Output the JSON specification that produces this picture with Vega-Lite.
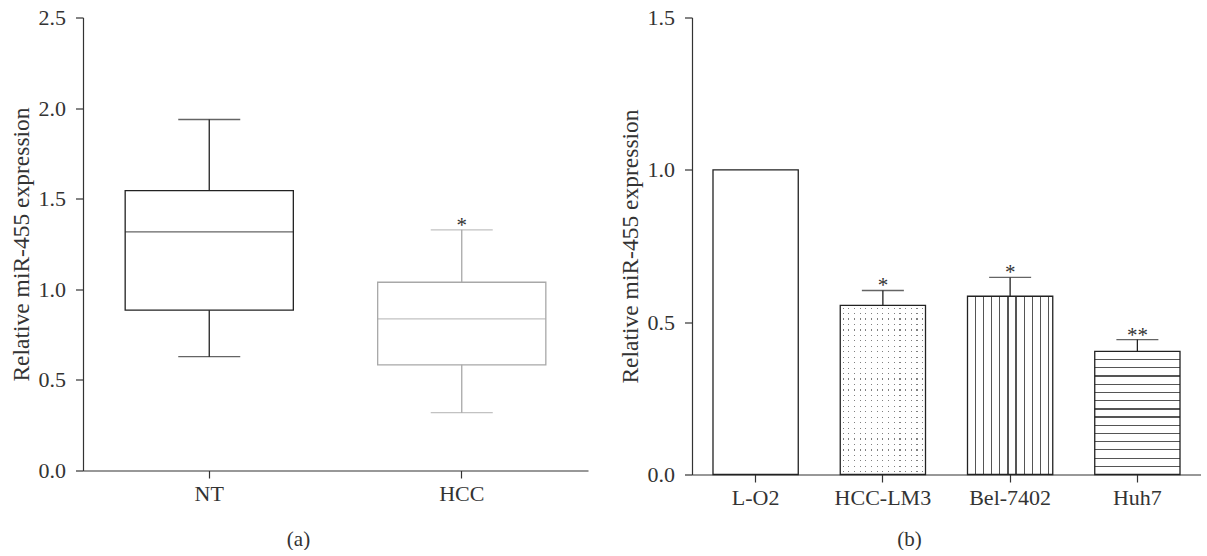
{
  "$schema": "https://vega.github.io/schema/vega-lite/v6.json",
  "background": "white",
  "padding": {"left": 9, "top": 6.5, "right": 0, "bottom": 0},
  "spacing": 30,
  "config": {
    "view": {"stroke": null},
    "font": "Liberation Serif",
    "axis": {
      "domainColor": "#333333", "tickColor": "#333333", "labelColor": "#333333", "titleColor": "#333333",
      "labelFont": "Liberation Serif", "titleFont": "Liberation Serif",
      "labelFontSize": 22, "titleFontSize": 23.5, "titleFontWeight": "normal",
      "tickSize": 7.5, "domainWidth": 1.2, "tickWidth": 1.2, "grid": false
    }
  },
  "datasets": {
    "box": [
      {"group": "NT", "min": 0.628, "q1": 0.885, "median": 1.317, "q3": 1.545, "max": 1.937, "star": ""},
      {"group": "HCC", "min": 0.319, "q1": 0.583, "median": 0.837, "q3": 1.039, "max": 1.328, "star": "*"}
    ],
    "cells": [
      {"line": "L-O2", "value": 1.0, "upper": null, "star": ""},
      {"line": "HCC-LM3", "value": 0.555, "upper": 0.604, "star": "*"},
      {"line": "Bel-7402", "value": 0.585, "upper": 0.647, "star": "*"},
      {"line": "Huh7", "value": 0.404, "upper": 0.443, "star": "**"}
    ]
  },
  "hconcat": [
    {
      "width": 505,
      "height": 453,
      "data": {"name": "box"},
      "encoding": {
        "x": {
          "field": "group", "type": "nominal", "sort": ["NT", "HCC"],
          "scale": {"paddingInner": 0.334, "paddingOuter": 0.167},
          "axis": {"labelAngle": 0, "labelPadding": 5, "title": "(a)", "titleX": 215, "titleY": 75, "titleBaseline": "alphabetic", "titleFontSize": 21}
        }
      },
      "layer": [
        {
          "mark": {"type": "rule", "strokeWidth": 1.3},
          "encoding": {
            "y": {"field": "min", "type": "quantitative", "title": "Relative miR-455 expression",
              "scale": {"domain": [0, 2.5], "nice": false},
              "axis": {"values": [0, 0.5, 1, 1.5, 2, 2.5], "format": ".1f", "labelPadding": 10, "titlePadding": 5}},
            "y2": {"field": "max"},
            "color": {"field": "group", "type": "nominal", "scale": {"domain": ["NT", "HCC"], "range": ["#222222", "#a8a8a8"]}, "legend": null}
          }
        },
        {
          "mark": {"type": "bar", "fill": "white", "strokeWidth": 1.3},
          "encoding": {
            "y": {"field": "q1", "type": "quantitative", "title": "Relative miR-455 expression"},
            "y2": {"field": "q3"},
            "stroke": {"field": "group", "type": "nominal", "scale": {"domain": ["NT", "HCC"], "range": ["#222222", "#a8a8a8"]}, "legend": null}
          }
        },
        {
          "mark": {"type": "tick", "size": 168, "thickness": 1.3},
          "encoding": {
            "y": {"field": "median", "type": "quantitative", "title": "Relative miR-455 expression"},
            "color": {"field": "group", "type": "nominal", "legend": null}
          }
        },
        {
          "mark": {"type": "tick", "size": 62, "thickness": 1.3},
          "encoding": {
            "y": {"field": "min", "type": "quantitative", "title": "Relative miR-455 expression"},
            "color": {"field": "group", "type": "nominal", "legend": null}
          }
        },
        {
          "mark": {"type": "tick", "size": 62, "thickness": 1.3},
          "encoding": {
            "y": {"field": "max", "type": "quantitative", "title": "Relative miR-455 expression"},
            "color": {"field": "group", "type": "nominal", "legend": null}
          }
        },
        {
          "transform": [{"filter": "datum.star != ''"}],
          "mark": {"type": "text", "fontSize": 21, "font": "Liberation Serif", "color": "#333333", "baseline": "alphabetic", "dy": 2},
          "encoding": {
            "y": {"field": "max", "type": "quantitative", "title": "Relative miR-455 expression"},
            "text": {"field": "star"}
          }
        }
      ]
    },
    {
      "width": 509,
      "height": 457,
      "data": {"name": "cells"},
      "encoding": {
        "x": {
          "field": "line", "type": "nominal", "sort": ["L-O2", "HCC-LM3", "Bel-7402", "Huh7"],
          "scale": {"paddingInner": 0.33, "paddingOuter": 0.165},
          "axis": {"labelAngle": 0, "labelPadding": 5, "title": "(b)", "titleX": 217, "titleY": 71, "titleBaseline": "alphabetic", "titleFontSize": 21}
        }
      },
      "layer": [
        {
          "transform": [{"filter": "datum.line == 'HCC-LM3'"}],
          "mark": {"type": "bar", "strokeWidth": 0, "fill": {"gradient": "linear", "x1": 0, "y1": 0, "x2": 1, "y2": 0, "stops": [
            {"offset": 0, "color": "#ffffff"},
            {"offset": 0.027, "color": "#ffffff"}, {"offset": 0.027, "color": "#808080"}, {"offset": 0.040, "color": "#808080"}, {"offset": 0.040, "color": "#ffffff"},
            {"offset": 0.093, "color": "#ffffff"}, {"offset": 0.093, "color": "#808080"}, {"offset": 0.107, "color": "#808080"}, {"offset": 0.107, "color": "#ffffff"},
            {"offset": 0.160, "color": "#ffffff"}, {"offset": 0.160, "color": "#808080"}, {"offset": 0.173, "color": "#808080"}, {"offset": 0.173, "color": "#ffffff"},
            {"offset": 0.227, "color": "#ffffff"}, {"offset": 0.227, "color": "#808080"}, {"offset": 0.240, "color": "#808080"}, {"offset": 0.240, "color": "#ffffff"},
            {"offset": 0.293, "color": "#ffffff"}, {"offset": 0.293, "color": "#808080"}, {"offset": 0.307, "color": "#808080"}, {"offset": 0.307, "color": "#ffffff"},
            {"offset": 0.360, "color": "#ffffff"}, {"offset": 0.360, "color": "#808080"}, {"offset": 0.373, "color": "#808080"}, {"offset": 0.373, "color": "#ffffff"},
            {"offset": 0.427, "color": "#ffffff"}, {"offset": 0.427, "color": "#808080"}, {"offset": 0.440, "color": "#808080"}, {"offset": 0.440, "color": "#ffffff"},
            {"offset": 0.493, "color": "#ffffff"}, {"offset": 0.493, "color": "#808080"}, {"offset": 0.507, "color": "#808080"}, {"offset": 0.507, "color": "#ffffff"},
            {"offset": 0.560, "color": "#ffffff"}, {"offset": 0.560, "color": "#808080"}, {"offset": 0.573, "color": "#808080"}, {"offset": 0.573, "color": "#ffffff"},
            {"offset": 0.627, "color": "#ffffff"}, {"offset": 0.627, "color": "#808080"}, {"offset": 0.640, "color": "#808080"}, {"offset": 0.640, "color": "#ffffff"},
            {"offset": 0.693, "color": "#ffffff"}, {"offset": 0.693, "color": "#808080"}, {"offset": 0.707, "color": "#808080"}, {"offset": 0.707, "color": "#ffffff"},
            {"offset": 0.760, "color": "#ffffff"}, {"offset": 0.760, "color": "#808080"}, {"offset": 0.773, "color": "#808080"}, {"offset": 0.773, "color": "#ffffff"},
            {"offset": 0.827, "color": "#ffffff"}, {"offset": 0.827, "color": "#808080"}, {"offset": 0.840, "color": "#808080"}, {"offset": 0.840, "color": "#ffffff"},
            {"offset": 0.893, "color": "#ffffff"}, {"offset": 0.893, "color": "#808080"}, {"offset": 0.907, "color": "#808080"}, {"offset": 0.907, "color": "#ffffff"},
            {"offset": 0.960, "color": "#ffffff"}, {"offset": 0.960, "color": "#808080"}, {"offset": 0.973, "color": "#808080"}, {"offset": 0.973, "color": "#ffffff"},
            {"offset": 1, "color": "#ffffff"}
          ]}},
          "encoding": {
            "y": {"field": "value", "type": "quantitative", "title": "Relative miR-455 expression",
              "scale": {"domain": [0, 1.5], "nice": false},
              "axis": {"values": [0, 0.5, 1, 1.5], "format": ".1f", "labelPadding": 10, "titlePadding": 5}}
          }
        },
        {
          "transform": [{"filter": "datum.line == 'HCC-LM3'"}],
          "mark": {"type": "bar", "strokeWidth": 0, "fill": {"gradient": "linear", "x1": 0, "y1": 0, "x2": 0, "y2": 1, "stops": [
            {"offset": 0, "color": "#ffffff"},
            {"offset": 0.0126, "color": "#ffffff"}, {"offset": 0.0126, "color": "rgba(255,255,255,0)"}, {"offset": 0.0196, "color": "rgba(255,255,255,0)"}, {"offset": 0.0196, "color": "#ffffff"},
            {"offset": 0.0449, "color": "#ffffff"}, {"offset": 0.0449, "color": "rgba(255,255,255,0)"}, {"offset": 0.0519, "color": "rgba(255,255,255,0)"}, {"offset": 0.0519, "color": "#ffffff"},
            {"offset": 0.0771, "color": "#ffffff"}, {"offset": 0.0771, "color": "rgba(255,255,255,0)"}, {"offset": 0.0841, "color": "rgba(255,255,255,0)"}, {"offset": 0.0841, "color": "#ffffff"},
            {"offset": 0.1094, "color": "#ffffff"}, {"offset": 0.1094, "color": "rgba(255,255,255,0)"}, {"offset": 0.1164, "color": "rgba(255,255,255,0)"}, {"offset": 0.1164, "color": "#ffffff"},
            {"offset": 0.1417, "color": "#ffffff"}, {"offset": 0.1417, "color": "rgba(255,255,255,0)"}, {"offset": 0.1487, "color": "rgba(255,255,255,0)"}, {"offset": 0.1487, "color": "#ffffff"},
            {"offset": 0.1739, "color": "#ffffff"}, {"offset": 0.1739, "color": "rgba(255,255,255,0)"}, {"offset": 0.1809, "color": "rgba(255,255,255,0)"}, {"offset": 0.1809, "color": "#ffffff"},
            {"offset": 0.2062, "color": "#ffffff"}, {"offset": 0.2062, "color": "rgba(255,255,255,0)"}, {"offset": 0.2132, "color": "rgba(255,255,255,0)"}, {"offset": 0.2132, "color": "#ffffff"},
            {"offset": 0.2384, "color": "#ffffff"}, {"offset": 0.2384, "color": "rgba(255,255,255,0)"}, {"offset": 0.2454, "color": "rgba(255,255,255,0)"}, {"offset": 0.2454, "color": "#ffffff"},
            {"offset": 0.2707, "color": "#ffffff"}, {"offset": 0.2707, "color": "rgba(255,255,255,0)"}, {"offset": 0.2777, "color": "rgba(255,255,255,0)"}, {"offset": 0.2777, "color": "#ffffff"},
            {"offset": 0.3030, "color": "#ffffff"}, {"offset": 0.3030, "color": "rgba(255,255,255,0)"}, {"offset": 0.3100, "color": "rgba(255,255,255,0)"}, {"offset": 0.3100, "color": "#ffffff"},
            {"offset": 0.3352, "color": "#ffffff"}, {"offset": 0.3352, "color": "rgba(255,255,255,0)"}, {"offset": 0.3422, "color": "rgba(255,255,255,0)"}, {"offset": 0.3422, "color": "#ffffff"},
            {"offset": 0.3675, "color": "#ffffff"}, {"offset": 0.3675, "color": "rgba(255,255,255,0)"}, {"offset": 0.3745, "color": "rgba(255,255,255,0)"}, {"offset": 0.3745, "color": "#ffffff"},
            {"offset": 0.3997, "color": "#ffffff"}, {"offset": 0.3997, "color": "rgba(255,255,255,0)"}, {"offset": 0.4067, "color": "rgba(255,255,255,0)"}, {"offset": 0.4067, "color": "#ffffff"},
            {"offset": 0.4320, "color": "#ffffff"}, {"offset": 0.4320, "color": "rgba(255,255,255,0)"}, {"offset": 0.4390, "color": "rgba(255,255,255,0)"}, {"offset": 0.4390, "color": "#ffffff"},
            {"offset": 0.4642, "color": "#ffffff"}, {"offset": 0.4642, "color": "rgba(255,255,255,0)"}, {"offset": 0.4712, "color": "rgba(255,255,255,0)"}, {"offset": 0.4712, "color": "#ffffff"},
            {"offset": 0.4965, "color": "#ffffff"}, {"offset": 0.4965, "color": "rgba(255,255,255,0)"}, {"offset": 0.5035, "color": "rgba(255,255,255,0)"}, {"offset": 0.5035, "color": "#ffffff"},
            {"offset": 0.5288, "color": "#ffffff"}, {"offset": 0.5288, "color": "rgba(255,255,255,0)"}, {"offset": 0.5358, "color": "rgba(255,255,255,0)"}, {"offset": 0.5358, "color": "#ffffff"},
            {"offset": 0.5610, "color": "#ffffff"}, {"offset": 0.5610, "color": "rgba(255,255,255,0)"}, {"offset": 0.5680, "color": "rgba(255,255,255,0)"}, {"offset": 0.5680, "color": "#ffffff"},
            {"offset": 0.5933, "color": "#ffffff"}, {"offset": 0.5933, "color": "rgba(255,255,255,0)"}, {"offset": 0.6003, "color": "rgba(255,255,255,0)"}, {"offset": 0.6003, "color": "#ffffff"},
            {"offset": 0.6255, "color": "#ffffff"}, {"offset": 0.6255, "color": "rgba(255,255,255,0)"}, {"offset": 0.6325, "color": "rgba(255,255,255,0)"}, {"offset": 0.6325, "color": "#ffffff"},
            {"offset": 0.6578, "color": "#ffffff"}, {"offset": 0.6578, "color": "rgba(255,255,255,0)"}, {"offset": 0.6648, "color": "rgba(255,255,255,0)"}, {"offset": 0.6648, "color": "#ffffff"},
            {"offset": 0.6900, "color": "#ffffff"}, {"offset": 0.6900, "color": "rgba(255,255,255,0)"}, {"offset": 0.6970, "color": "rgba(255,255,255,0)"}, {"offset": 0.6970, "color": "#ffffff"},
            {"offset": 0.7223, "color": "#ffffff"}, {"offset": 0.7223, "color": "rgba(255,255,255,0)"}, {"offset": 0.7293, "color": "rgba(255,255,255,0)"}, {"offset": 0.7293, "color": "#ffffff"},
            {"offset": 0.7546, "color": "#ffffff"}, {"offset": 0.7546, "color": "rgba(255,255,255,0)"}, {"offset": 0.7616, "color": "rgba(255,255,255,0)"}, {"offset": 0.7616, "color": "#ffffff"},
            {"offset": 0.7868, "color": "#ffffff"}, {"offset": 0.7868, "color": "rgba(255,255,255,0)"}, {"offset": 0.7938, "color": "rgba(255,255,255,0)"}, {"offset": 0.7938, "color": "#ffffff"},
            {"offset": 0.8191, "color": "#ffffff"}, {"offset": 0.8191, "color": "rgba(255,255,255,0)"}, {"offset": 0.8261, "color": "rgba(255,255,255,0)"}, {"offset": 0.8261, "color": "#ffffff"},
            {"offset": 0.8513, "color": "#ffffff"}, {"offset": 0.8513, "color": "rgba(255,255,255,0)"}, {"offset": 0.8583, "color": "rgba(255,255,255,0)"}, {"offset": 0.8583, "color": "#ffffff"},
            {"offset": 0.8836, "color": "#ffffff"}, {"offset": 0.8836, "color": "rgba(255,255,255,0)"}, {"offset": 0.8906, "color": "rgba(255,255,255,0)"}, {"offset": 0.8906, "color": "#ffffff"},
            {"offset": 0.9159, "color": "#ffffff"}, {"offset": 0.9159, "color": "rgba(255,255,255,0)"}, {"offset": 0.9229, "color": "rgba(255,255,255,0)"}, {"offset": 0.9229, "color": "#ffffff"},
            {"offset": 0.9481, "color": "#ffffff"}, {"offset": 0.9481, "color": "rgba(255,255,255,0)"}, {"offset": 0.9551, "color": "rgba(255,255,255,0)"}, {"offset": 0.9551, "color": "#ffffff"},
            {"offset": 0.9804, "color": "#ffffff"}, {"offset": 0.9804, "color": "rgba(255,255,255,0)"}, {"offset": 0.9874, "color": "rgba(255,255,255,0)"}, {"offset": 0.9874, "color": "#ffffff"},
            {"offset": 1, "color": "#ffffff"}
          ]}},
          "encoding": {
            "y": {"field": "value", "type": "quantitative", "title": "Relative miR-455 expression"}
          }
        },
        {
          "transform": [{"filter": "datum.line == 'Bel-7402'"}],
          "mark": {"type": "bar", "strokeWidth": 0, "fill": {"gradient": "linear", "x1": 0, "y1": 0, "x2": 1, "y2": 0, "stops": [
            {"offset": 0, "color": "#ffffff"},
            {"offset": 0.088, "color": "#ffffff"}, {"offset": 0.088, "color": "#555555"}, {"offset": 0.102, "color": "#555555"}, {"offset": 0.102, "color": "#ffffff"},
            {"offset": 0.183, "color": "#ffffff"}, {"offset": 0.183, "color": "#555555"}, {"offset": 0.197, "color": "#555555"}, {"offset": 0.197, "color": "#ffffff"},
            {"offset": 0.278, "color": "#ffffff"}, {"offset": 0.278, "color": "#555555"}, {"offset": 0.292, "color": "#555555"}, {"offset": 0.292, "color": "#ffffff"},
            {"offset": 0.373, "color": "#ffffff"}, {"offset": 0.373, "color": "#555555"}, {"offset": 0.387, "color": "#555555"}, {"offset": 0.387, "color": "#ffffff"},
            {"offset": 0.468, "color": "#ffffff"}, {"offset": 0.468, "color": "#555555"}, {"offset": 0.482, "color": "#555555"}, {"offset": 0.482, "color": "#ffffff"},
            {"offset": 0.563, "color": "#ffffff"}, {"offset": 0.563, "color": "#555555"}, {"offset": 0.577, "color": "#555555"}, {"offset": 0.577, "color": "#ffffff"},
            {"offset": 0.658, "color": "#ffffff"}, {"offset": 0.658, "color": "#555555"}, {"offset": 0.672, "color": "#555555"}, {"offset": 0.672, "color": "#ffffff"},
            {"offset": 0.753, "color": "#ffffff"}, {"offset": 0.753, "color": "#555555"}, {"offset": 0.767, "color": "#555555"}, {"offset": 0.767, "color": "#ffffff"},
            {"offset": 0.848, "color": "#ffffff"}, {"offset": 0.848, "color": "#555555"}, {"offset": 0.862, "color": "#555555"}, {"offset": 0.862, "color": "#ffffff"},
            {"offset": 0.943, "color": "#ffffff"}, {"offset": 0.943, "color": "#555555"}, {"offset": 0.957, "color": "#555555"}, {"offset": 0.957, "color": "#ffffff"},
            {"offset": 1, "color": "#ffffff"}
          ]}},
          "encoding": {
            "y": {"field": "value", "type": "quantitative", "title": "Relative miR-455 expression"}
          }
        },
        {
          "transform": [{"filter": "datum.line == 'Huh7'"}],
          "mark": {"type": "bar", "strokeWidth": 0, "fill": {"gradient": "linear", "x1": 0, "y1": 0, "x2": 0, "y2": 1, "stops": [
            {"offset": 0, "color": "#ffffff"},
            {"offset": 0.062, "color": "#ffffff"}, {"offset": 0.062, "color": "#555555"}, {"offset": 0.072, "color": "#555555"}, {"offset": 0.072, "color": "#ffffff"},
            {"offset": 0.128, "color": "#ffffff"}, {"offset": 0.128, "color": "#555555"}, {"offset": 0.138, "color": "#555555"}, {"offset": 0.138, "color": "#ffffff"},
            {"offset": 0.195, "color": "#ffffff"}, {"offset": 0.195, "color": "#555555"}, {"offset": 0.205, "color": "#555555"}, {"offset": 0.205, "color": "#ffffff"},
            {"offset": 0.262, "color": "#ffffff"}, {"offset": 0.262, "color": "#555555"}, {"offset": 0.272, "color": "#555555"}, {"offset": 0.272, "color": "#ffffff"},
            {"offset": 0.328, "color": "#ffffff"}, {"offset": 0.328, "color": "#555555"}, {"offset": 0.338, "color": "#555555"}, {"offset": 0.338, "color": "#ffffff"},
            {"offset": 0.395, "color": "#ffffff"}, {"offset": 0.395, "color": "#555555"}, {"offset": 0.405, "color": "#555555"}, {"offset": 0.405, "color": "#ffffff"},
            {"offset": 0.462, "color": "#ffffff"}, {"offset": 0.462, "color": "#555555"}, {"offset": 0.472, "color": "#555555"}, {"offset": 0.472, "color": "#ffffff"},
            {"offset": 0.528, "color": "#ffffff"}, {"offset": 0.528, "color": "#555555"}, {"offset": 0.538, "color": "#555555"}, {"offset": 0.538, "color": "#ffffff"},
            {"offset": 0.595, "color": "#ffffff"}, {"offset": 0.595, "color": "#555555"}, {"offset": 0.605, "color": "#555555"}, {"offset": 0.605, "color": "#ffffff"},
            {"offset": 0.662, "color": "#ffffff"}, {"offset": 0.662, "color": "#555555"}, {"offset": 0.672, "color": "#555555"}, {"offset": 0.672, "color": "#ffffff"},
            {"offset": 0.728, "color": "#ffffff"}, {"offset": 0.728, "color": "#555555"}, {"offset": 0.738, "color": "#555555"}, {"offset": 0.738, "color": "#ffffff"},
            {"offset": 0.795, "color": "#ffffff"}, {"offset": 0.795, "color": "#555555"}, {"offset": 0.805, "color": "#555555"}, {"offset": 0.805, "color": "#ffffff"},
            {"offset": 0.862, "color": "#ffffff"}, {"offset": 0.862, "color": "#555555"}, {"offset": 0.872, "color": "#555555"}, {"offset": 0.872, "color": "#ffffff"},
            {"offset": 0.928, "color": "#ffffff"}, {"offset": 0.928, "color": "#555555"}, {"offset": 0.938, "color": "#555555"}, {"offset": 0.938, "color": "#ffffff"},
            {"offset": 1, "color": "#ffffff"}
          ]}},
          "encoding": {
            "y": {"field": "value", "type": "quantitative", "title": "Relative miR-455 expression"}
          }
        },
        {
          "mark": {"type": "bar", "fill": "white", "fillOpacity": 0, "stroke": "#222222", "strokeWidth": 1.3},
          "encoding": {
            "y": {"field": "value", "type": "quantitative", "title": "Relative miR-455 expression"}
          }
        },
        {
          "transform": [{"filter": "datum.upper != null"}],
          "mark": {"type": "rule", "color": "#222222", "strokeWidth": 1.3},
          "encoding": {
            "y": {"field": "value", "type": "quantitative", "title": "Relative miR-455 expression"},
            "y2": {"field": "upper"}
          }
        },
        {
          "transform": [{"filter": "datum.upper != null"}],
          "mark": {"type": "tick", "color": "#222222", "size": 42, "thickness": 1.3},
          "encoding": {
            "y": {"field": "upper", "type": "quantitative", "title": "Relative miR-455 expression"}
          }
        },
        {
          "transform": [{"filter": "datum.star != ''"}],
          "mark": {"type": "text", "fontSize": 21, "font": "Liberation Serif", "color": "#333333", "baseline": "alphabetic", "dy": 2},
          "encoding": {
            "y": {"field": "upper", "type": "quantitative", "title": "Relative miR-455 expression"},
            "text": {"field": "star"}
          }
        }
      ]
    }
  ]
}
